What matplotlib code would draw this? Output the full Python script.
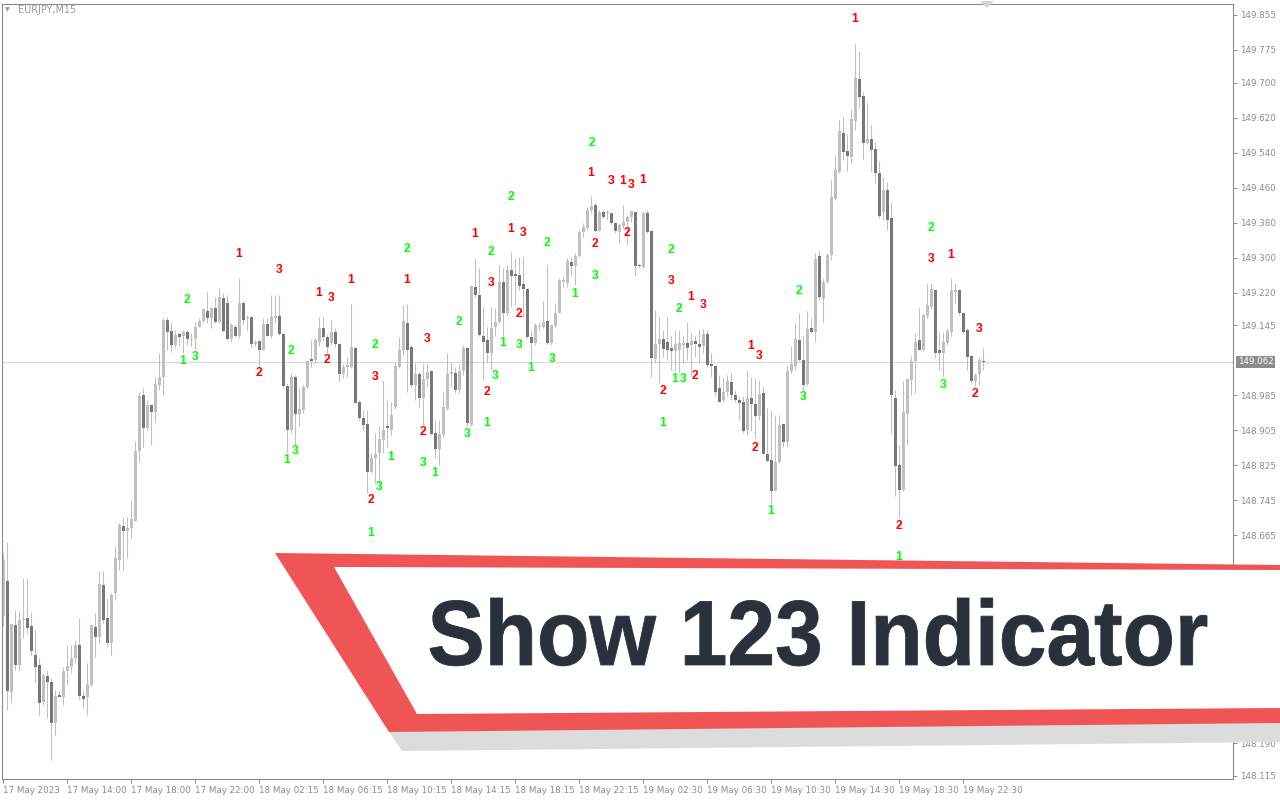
import numpy as np
import matplotlib.pyplot as plt
from matplotlib.patches import Polygon, PathPatch
from matplotlib.textpath import TextPath
from matplotlib.font_manager import FontProperties
from matplotlib.transforms import Affine2D

# EURJPY M15 candles (one entry per bar, left to right)
opens = [
    148.480, 148.561, 148.306, 148.461, 148.368, 148.471, 148.476, 148.457, 148.392, 148.369,
    148.283, 148.344, 148.329, 148.237, 148.300, 148.295, 148.354, 148.365, 148.384, 148.415,
    148.298, 148.295, 148.322, 148.456, 148.432, 148.551, 148.476, 148.420, 148.533, 148.609,
    148.687, 148.676, 148.681, 148.699, 148.857, 148.986, 148.910, 148.964, 148.947, 149.009,
    149.027, 149.158, 149.133, 149.101, 149.126, 149.121, 149.129, 149.112, 149.114, 149.141,
    149.156, 149.178, 149.163, 149.185, 149.154, 149.207, 149.197, 149.114, 149.141, 149.121,
    149.196, 149.161, 149.164, 149.103, 149.109, 149.089, 149.149, 149.120, 149.163, 149.167,
    149.126, 149.007, 148.905, 149.028, 148.943, 148.952, 149.005, 149.068, 149.066, 149.108,
    149.140, 149.119, 149.106, 149.129, 149.103, 149.034, 149.051, 149.051, 149.094, 148.971,
    148.934, 148.920, 148.809, 148.841, 148.853, 148.883, 148.915, 148.907, 148.958, 149.051,
    149.090, 149.150, 149.096, 149.009, 149.034, 148.980, 149.022, 149.041, 148.898, 148.863,
    148.895, 148.954, 149.035, 149.037, 148.998, 149.042, 149.093, 148.918, 149.234, 149.215,
    149.120, 149.112, 149.083, 149.141, 149.152, 149.245, 149.173, 149.272, 149.263, 149.261,
    149.240, 149.228, 149.118, 149.104, 149.141, 149.142, 149.155, 149.104, 149.144, 149.174,
    149.245, 149.242, 149.290, 149.280, 149.304, 149.358, 149.367, 149.409, 149.421, 149.362,
    149.405, 149.402, 149.402, 149.379, 149.358, 149.373, 149.382, 149.392, 149.405, 149.283,
    149.278, 149.402, 149.361, 149.068, 149.103, 149.113, 149.107, 149.093, 149.087, 149.088,
    149.100, 149.104, 149.100, 149.110, 149.103, 149.097, 149.125, 149.057, 149.053, 149.002,
    148.974, 148.993, 149.016, 148.987, 148.975, 148.971, 148.905, 148.979, 148.966, 148.939,
    148.990, 148.851, 148.838, 148.767, 148.833, 148.920, 148.878, 149.041, 149.053, 149.112,
    149.067, 149.012, 149.139, 149.129, 149.303, 149.206, 149.244, 149.306, 149.434, 149.497,
    149.586, 149.544, 149.531, 149.613, 149.708, 149.670, 149.563, 149.571, 149.548, 149.494,
    149.404, 149.455, 149.391, 148.979, 148.827, 148.768, 148.942, 149.021, 149.063, 149.111,
    149.088, 149.166, 149.188, 149.225, 149.088, 149.083, 149.106, 149.131, 149.221, 149.227,
    149.173, 149.135, 149.076, 149.019, 149.034, 149.064,
]
highs = [
    148.624, 148.651, 148.463, 148.495, 148.495, 148.567, 148.567, 148.489, 148.449, 148.384,
    148.350, 148.358, 148.339, 148.312, 148.312, 148.365, 148.415, 148.415, 148.426, 148.476,
    148.312, 148.373, 148.461, 148.487, 148.583, 148.583, 148.522, 148.533, 148.640, 148.693,
    148.708, 148.708, 148.745, 148.880, 148.994, 149.002, 148.975, 148.966, 149.028, 149.082,
    149.162, 149.164, 149.154, 149.135, 149.131, 149.135, 149.135, 149.127, 149.154, 149.162,
    149.185, 149.223, 149.188, 149.211, 149.230, 149.219, 149.215, 149.150, 149.146, 149.253,
    149.200, 149.169, 149.165, 149.112, 149.112, 149.162, 149.162, 149.215, 149.215, 149.215,
    149.127, 149.013, 149.036, 149.032, 149.002, 149.009, 149.066, 149.112, 149.116, 149.165,
    149.165, 149.125, 149.157, 149.140, 149.106, 149.058, 149.074, 149.195, 149.096, 148.975,
    148.952, 148.952, 148.853, 148.898, 148.914, 149.020, 148.975, 148.971, 149.062, 149.119,
    149.192, 149.195, 149.100, 149.060, 149.039, 149.058, 149.058, 149.043, 148.929, 148.929,
    148.994, 149.081, 149.062, 149.051, 149.058, 149.100, 149.095, 149.238, 149.300, 149.276,
    149.188, 149.142, 149.188, 149.184, 149.283, 149.276, 149.283, 149.314, 149.299, 149.302,
    149.302, 149.230, 149.135, 149.150, 149.154, 149.200, 149.283, 149.146, 149.196, 149.253,
    149.257, 149.299, 149.302, 149.310, 149.363, 149.379, 149.415, 149.440, 149.424, 149.409,
    149.409, 149.409, 149.403, 149.382, 149.380, 149.421, 149.398, 149.409, 149.405, 149.287,
    149.405, 149.409, 149.363, 149.181, 149.165, 149.135, 149.165, 149.120, 149.135, 149.135,
    149.120, 149.154, 149.127, 149.120, 149.135, 149.137, 149.135, 149.082, 149.055, 149.032,
    149.025, 149.032, 149.036, 148.998, 148.983, 148.983, 149.044, 149.028, 149.025, 149.021,
    149.006, 148.956, 148.952, 148.937, 148.941, 148.920, 149.055, 149.097, 149.152, 149.173,
    149.121, 149.177, 149.162, 149.310, 149.318, 149.253, 149.310, 149.481, 149.535, 149.615,
    149.622, 149.582, 149.640, 149.791, 149.772, 149.679, 149.657, 149.603, 149.567, 149.521,
    149.485, 149.474, 149.428, 148.998, 148.872, 149.017, 149.025, 149.076, 149.127, 149.188,
    149.173, 149.242, 149.242, 149.227, 149.131, 149.131, 149.139, 149.253, 149.242, 149.228,
    149.175, 149.139, 149.078, 149.036, 149.074, 149.093,
]
lows = [
    148.457, 148.266, 148.285, 148.358, 148.358, 148.430, 148.442, 148.392, 148.327, 148.251,
    148.278, 148.247, 148.152, 148.209, 148.295, 148.278, 148.323, 148.350, 148.373, 148.289,
    148.270, 148.255, 148.320, 148.388, 148.419, 148.464, 148.411, 148.392, 148.518, 148.586,
    148.586, 148.613, 148.659, 148.697, 148.832, 148.868, 148.906, 148.872, 148.925, 148.998,
    148.986, 149.089, 149.085, 149.093, 149.097, 149.082, 149.101, 149.097, 149.089, 149.141,
    149.150, 149.150, 149.139, 149.150, 149.150, 149.131, 149.112, 149.108, 149.118, 149.116,
    149.146, 149.135, 149.093, 149.098, 149.053, 149.088, 149.120, 149.116, 149.150, 149.124,
    149.002, 148.855, 148.899, 148.872, 148.914, 148.945, 149.002, 149.051, 149.060, 149.097,
    149.110, 149.081, 149.100, 149.095, 149.015, 149.024, 149.028, 149.047, 148.967, 148.929,
    148.906, 148.761, 148.807, 148.784, 148.784, 148.853, 148.868, 148.895, 148.955, 149.047,
    149.077, 148.994, 149.005, 148.975, 148.959, 148.917, 149.005, 148.895, 148.843, 148.826,
    148.891, 148.952, 149.005, 148.990, 148.990, 149.032, 148.915, 148.915, 149.211, 149.120,
    149.021, 149.059, 149.043, 149.120, 149.150, 149.120, 149.169, 149.188, 149.192, 149.226,
    149.165, 149.116, 149.066, 149.100, 149.135, 149.139, 149.103, 149.100, 149.142, 149.173,
    149.234, 149.234, 149.257, 149.238, 149.302, 149.348, 149.363, 149.402, 149.360, 149.360,
    149.390, 149.386, 149.377, 149.357, 149.333, 149.367, 149.329, 149.382, 149.257, 149.276,
    149.276, 149.356, 149.028, 149.059, 149.013, 149.074, 149.066, 149.043, 149.040, 149.036,
    149.059, 149.066, 149.028, 149.074, 149.059, 149.082, 149.050, 149.028, 148.983, 148.969,
    148.971, 148.983, 148.975, 148.971, 148.929, 148.899, 148.895, 148.903, 148.888, 148.929,
    148.850, 148.834, 148.739, 148.766, 148.830, 148.868, 148.868, 149.036, 149.044, 149.063,
    148.998, 149.009, 149.127, 149.108, 149.204, 149.154, 149.242, 149.295, 149.432, 149.494,
    149.523, 149.499, 149.516, 149.592, 149.641, 149.525, 149.560, 149.497, 149.470, 149.390,
    149.386, 149.363, 148.899, 148.754, 148.705, 148.766, 148.872, 148.987, 148.990, 149.089,
    149.086, 149.162, 149.185, 149.070, 149.044, 149.028, 149.101, 149.120, 149.196, 149.169,
    149.127, 149.044, 149.013, 149.006, 149.009, 149.044,
]
closes = [
    148.609, 148.310, 148.463, 148.368, 148.471, 148.474, 148.454, 148.400, 148.365, 148.282,
    148.346, 148.329, 148.237, 148.298, 148.295, 148.355, 148.367, 148.384, 148.415, 148.298,
    148.291, 148.326, 148.459, 148.432, 148.554, 148.471, 148.419, 148.529, 148.613, 148.689,
    148.676, 148.681, 148.703, 148.859, 148.984, 148.910, 148.964, 148.947, 149.012, 149.028,
    149.158, 149.131, 149.101, 149.124, 149.118, 149.129, 149.114, 149.115, 149.141, 149.156,
    149.182, 149.162, 149.185, 149.154, 149.210, 149.133, 149.114, 149.146, 149.121, 149.196,
    149.158, 149.165, 149.102, 149.107, 149.089, 149.149, 149.122, 149.164, 149.165, 149.125,
    149.007, 148.905, 149.028, 148.943, 148.954, 149.004, 149.064, 149.063, 149.112, 149.139,
    149.119, 149.096, 149.129, 149.103, 149.035, 149.051, 149.053, 149.096, 148.968, 148.933,
    148.917, 148.809, 148.843, 148.850, 148.885, 148.907, 148.911, 148.940, 149.053, 149.090,
    149.155, 149.090, 149.009, 149.034, 148.980, 149.023, 149.038, 148.896, 148.863, 148.896,
    148.958, 149.035, 149.037, 148.998, 149.042, 149.093, 148.922, 149.235, 149.215, 149.123,
    149.108, 149.083, 149.139, 149.152, 149.245, 149.173, 149.272, 149.259, 149.259, 149.236,
    149.228, 149.118, 149.104, 149.145, 149.144, 149.154, 149.104, 149.145, 149.174, 149.248,
    149.249, 149.293, 149.280, 149.304, 149.358, 149.369, 149.409, 149.418, 149.362, 149.405,
    149.392, 149.405, 149.379, 149.360, 149.375, 149.382, 149.394, 149.407, 149.282, 149.280,
    149.402, 149.358, 149.070, 149.103, 149.114, 149.091, 149.089, 149.087, 149.103, 149.104,
    149.104, 149.093, 149.110, 149.102, 149.095, 149.125, 149.054, 149.053, 148.994, 148.971,
    148.993, 149.019, 148.985, 148.974, 148.968, 148.903, 148.979, 148.966, 148.937, 148.989,
    148.851, 148.834, 148.766, 148.833, 148.918, 148.878, 149.041, 149.057, 149.114, 149.065,
    149.009, 149.137, 149.131, 149.297, 149.209, 149.244, 149.306, 149.439, 149.500, 149.590,
    149.542, 149.533, 149.617, 149.710, 149.668, 149.563, 149.571, 149.546, 149.494, 149.396,
    149.455, 149.386, 148.986, 148.824, 148.768, 148.946, 149.022, 149.064, 149.108, 149.089,
    149.168, 149.191, 149.229, 149.083, 149.083, 149.108, 149.133, 149.225, 149.227, 149.173,
    149.131, 149.073, 149.017, 149.032, 149.065, 149.061,
]

time_labels = ['17 May 2023', '17 May 14:00', '17 May 18:00', '17 May 22:00',
               '18 May 02:15', '18 May 06:15', '18 May 10:15', '18 May 14:15',
               '18 May 18:15', '18 May 22:15', '19 May 02:30', '19 May 06:30',
               '19 May 10:30', '19 May 14:30', '19 May 18:30', '19 May 22:30']
price_ticks = [149.855, 149.775, 149.700, 149.620, 149.540, 149.460, 149.380,
               149.300, 149.220, 149.145, 148.985, 148.905, 148.825, 148.745,
               148.665, 148.590, 148.510, 148.430, 148.350, 148.270, 148.190, 148.115]
last_price = 149.062

# Show 123 indicator points: bar index, price, digit, direction
sig_bar = [59, 69, 46, 79, 82, 87, 45, 48, 64, 72, 81, 93, 93, 71, 73, 92, 94, 92, 97,
           105, 105, 108, 101, 101, 106, 114, 116, 118, 122, 122, 123, 121, 121, 125, 129,
           129, 127, 130, 127, 132, 137.25, 136, 143, 148, 148, 147, 147.25, 152, 155, 157,
           160, 156, 167, 167, 172, 175, 169, 168, 170, 173, 165, 165, 187, 189, 188, 192,
           199, 200, 213, 232, 232, 237, 244, 235, 243, 224, 224]
sig_price = [149.309, 149.272, 149.203, 149.219, 149.208, 149.249, 149.064, 149.073, 149.037,
             149.087, 149.066, 149.101, 149.027, 148.838, 148.858, 148.746, 148.776, 148.671,
             148.845, 148.902, 148.831, 148.808, 149.249, 149.320, 149.114, 149.153, 148.897,
             149.354, 149.313, 149.242, 149.030, 148.993, 148.922, 149.105, 149.171, 149.101,
             149.366, 149.357, 149.439, 149.048, 149.069, 149.334, 149.217, 149.258, 149.332,
             149.494, 149.562, 149.476, 149.476, 149.466, 149.478, 149.357, 149.318, 149.247,
             149.210, 149.192, 149.183, 149.023, 149.023, 149.030, 148.995, 148.922, 149.098,
             149.075, 148.865, 148.721, 149.224, 148.982, 149.846, 149.368, 149.297, 149.306,
             149.137, 149.009, 148.989, 148.687, 148.616]
sig_text = ['1', '3', '2', '1', '3', '1', '1', '3', '2', '2', '2', '2', '3', '1', '3', '2', '3',
            '1', '1', '2', '3', '1', '1', '2', '3', '2', '3', '1', '2', '3', '3', '2', '1', '1',
            '2', '3', '1', '3', '2', '1', '3', '2', '1', '3', '2', '1', '2', '3', '1', '3', '1',
            '2', '2', '3', '1', '3', '2', '1', '3', '2', '2', '1', '1', '3', '2', '1', '2', '3',
            '1', '2', '3', '1', '3', '3', '2', '2', '1']
sig_up = [0, 0, 1, 0, 0, 0, 1, 1, 0, 1, 0, 1, 0, 1, 1, 0, 1, 1, 1, 0, 1, 1, 0, 1, 0, 1, 1,
          0, 1, 0, 1, 0, 1, 1, 0, 1, 0, 0, 1, 1, 1, 1, 1, 1, 0, 0, 1, 0, 0, 0, 0, 0, 1, 0,
          0, 0, 1, 1, 1, 0, 0, 1, 0, 0, 0, 1, 1, 1, 0, 1, 0, 0, 0, 1, 0, 0, 1]

o = np.array(opens)
h = np.array(highs)
l = np.array(lows)
c = np.array(closes)
x = np.arange(len(o))
bull = c >= o

fig = plt.figure(figsize=(12.8, 8), dpi=100)
ax = fig.add_axes([2 / 1280, 21 / 800, 1231 / 1280, 775 / 800])

ax.axhline(last_price, color='#d9d9d9', lw=0.8, zorder=0)

# candles
ax.vlines(x, l, h, color='#c0c0c0', lw=0.75, zorder=1)
body_lo = np.minimum(o, c)
body_h = np.maximum(np.abs(c - o), 0.0025)
ax.bar(x[bull], body_h[bull], bottom=body_lo[bull], width=0.75, color='#c0c0c0', lw=0, zorder=2)
ax.bar(x[~bull], body_h[~bull], bottom=body_lo[~bull], width=0.75, color='#787878', lw=0, zorder=2)

# 1-2-3 labels
for b, p, t, u in zip(sig_bar, sig_price, sig_text, sig_up):
    ax.text(b, p, t, color='#00ff00' if u else '#ff0000', ha='center', va='center',
            fontsize=8.7, fontweight='bold', family='Liberation Sans', zorder=3)

ax.set_xlim(-0.25, 307.5)
ax.set_ylim(148.108, 149.880)

axis_col = '#8c8c8c'
for sp in ax.spines.values():
    sp.set_color(axis_col)
    sp.set_linewidth(0.8)

ax.yaxis.tick_right()
ax.set_yticks(price_ticks)
ax.set_yticklabels([f'{p:.3f}' for p in price_ticks])
ax.set_xticks(np.arange(len(time_labels)) * 16)
ax.set_xticklabels(time_labels, ha='left')
ax.tick_params(axis='both', direction='out', length=3, width=0.7, color=axis_col,
               labelcolor=axis_col, labelsize=6.3, pad=2)

# current price box
ax.text(1.004, last_price, f'{last_price:.3f}', transform=ax.get_yaxis_transform(),
        ha='left', va='center', color='white', fontsize=6.3,
        bbox=dict(boxstyle='square,pad=0.2', fc='#8c8c8c', ec='none'))

# symbol caption
fig.text(5 / 1280, 1 - 10 / 800, '\u25bc', fontsize=4.5, color='#9a9a9a', va='center')
fig.text(18 / 1280, 1 - 10 / 800, 'EURJPY,M15', fontsize=6.9, color='#9a9a9a', va='center')

# banner overlay in pixel coordinates
ov = fig.add_axes([0, 0, 1, 1], zorder=10)
ov.set_xlim(0, 1280)
ov.set_ylim(800, 0)
ov.axis('off')
ov.patch.set_alpha(0)

ov.add_patch(Polygon([(980, 1), (994, 1), (987, 8)], closed=True, fc='#d4d4d4', ec='none'))
ov.add_patch(Polygon([(385, 726), (1280, 716), (1280, 742), (402, 751)], closed=True,
                     fc='#dcdcdc', ec='none'))
ov.add_patch(Polygon([(275, 553), (1280, 565), (1280, 723), (389, 732)], closed=True,
                     fc='#f05556', ec='none'))
ov.add_patch(Polygon([(334, 567), (1280, 570), (1280, 708), (417, 714)], closed=True,
                     fc='white', ec='none'))

tp = TextPath((0, 0), 'Show 123 Indicator', size=100,
              prop=FontProperties(family='Liberation Sans', weight='bold'))
bb = tp.get_extents()
sx = (1207 - 430) / bb.width
sy = (666 - 598) / bb.height
tr = Affine2D().translate(-bb.x0, -bb.y1).scale(sx, -sy).translate(430, 598)
ov.add_patch(PathPatch(tr.transform_path(tp), fc='#2b313b', ec='#2b313b', lw=0.6))

fig.savefig('out.png', dpi=100)
